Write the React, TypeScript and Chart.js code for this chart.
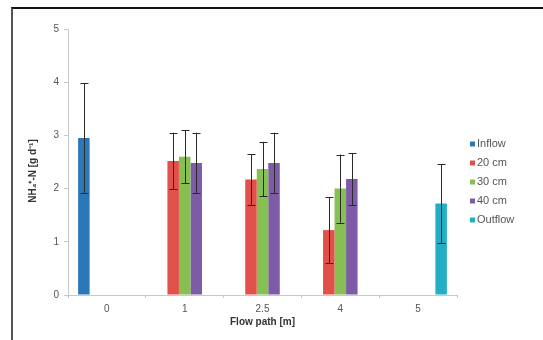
import React, { useEffect, useRef } from "react";
import { Chart, registerables } from "chart.js";

Chart.register(...registerables);

const categories = ["0", "1", "2.5", "4", "5"];
const seriesNames = ["Inflow", "20 cm", "30 cm", "40 cm", "Outflow"];
const inflow = [2.95, null, null, null, null];
const inflowErr = [1.03, null, null, null, null];
const cm20 = [null, 2.52, 2.17, 1.22, null];
const cm20Err = [null, 0.53, 0.48, 0.62, null];
const cm30 = [null, 2.6, 2.37, 2.0, null];
const cm30Err = [null, 0.5, 0.51, 0.64, null];
const cm40 = [null, 2.48, 2.48, 2.18, null];
const cm40Err = [null, 0.57, 0.57, 0.49, null];
const outflow = [null, null, null, null, 1.72];
const outflowErr = [null, null, null, null, 0.74];
const colors = ["#2a78b8", "#e2504c", "#86c052", "#7d5ba6", "#22afc6"];
const yTicks = [0, 1, 2, 3, 4, 5];
const yTitle = "NH₄⁺-N [g d⁻¹]";

const FONT = "'Liberation Sans', Arial, sans-serif";

const errorBarPlugin = {
  id: "errorBars",
  afterDatasetsDraw(chart: any) {
    const ctx = chart.ctx;
    const yScale = chart.scales.y;
    ctx.save();
    ctx.strokeStyle = "#2a2a2a";
    ctx.lineWidth = 1;
    chart.data.datasets.forEach((ds: any, i: number) => {
      const meta = chart.getDatasetMeta(i);
      meta.data.forEach((el: any, j: number) => {
        const v = ds.data[j];
        const e = ds.errors[j];
        if (v == null || e == null) return;
        const x = Math.round(el.x) + 0.5;
        const yTop = yScale.getPixelForValue(v + e);
        const yBot = yScale.getPixelForValue(v - e);
        ctx.beginPath();
        ctx.moveTo(x, yTop);
        ctx.lineTo(x, yBot);
        ctx.moveTo(x - 4, Math.round(yTop) + 0.5);
        ctx.lineTo(x + 4, Math.round(yTop) + 0.5);
        ctx.moveTo(x - 4, Math.round(yBot) + 0.5);
        ctx.lineTo(x + 4, Math.round(yBot) + 0.5);
        ctx.stroke();
      });
    });
    ctx.restore();
  },
};

const legendPlugin = {
  id: "customLegend",
  afterDraw(chart: any) {
    const ctx = chart.ctx;
    ctx.save();
    ctx.font = `11px ${FONT}`;
    ctx.textBaseline = "middle";
    ctx.textAlign = "left";
    chart.data.datasets.forEach((ds: any, i: number) => {
      const y = 144 + i * 19;
      ctx.fillStyle = ds.backgroundColor;
      ctx.fillRect(470, y - 2.5, 5, 5);
      ctx.fillStyle = "#555";
      ctx.fillText(ds.label, 477, y);
    });
    // y-axis title
    ctx.translate(33, 171);
    ctx.rotate(-Math.PI / 2);
    ctx.textAlign = "center";
    ctx.font = `bold 10px ${FONT}`;
    ctx.fillStyle = "#333";
    ctx.fillText(yTitle, 0, 0);
    ctx.restore();
  },
};

export default function App() {
  const ref = useRef<HTMLCanvasElement | null>(null);

  useEffect(() => {
    if (!ref.current) return;
    const values = [inflow, cm20, cm30, cm40, outflow];
    const errs = [inflowErr, cm20Err, cm30Err, cm40Err, outflowErr];
    const chart = new Chart(ref.current, {
      type: "bar",
      data: {
        labels: categories,
        datasets: seriesNames.map((name, i) => ({
          label: name,
          data: values[i],
          errors: errs[i],
          backgroundColor: colors[i],
          borderWidth: 0,
          categoryPercentage: 0.74,
          barPercentage: 1,
        })) as any,
      },
      options: {
        responsive: false,
        animation: false,
        layout: { padding: { top: 29, right: 86, bottom: 0, left: 0 } },
        plugins: {
          legend: { display: false },
          tooltip: { enabled: false },
        },
        scales: {
          x: {
            grid: {
              display: true,
              drawOnChartArea: false,
              drawTicks: true,
              tickLength: 3,
              color: "#c8c8c8",
              offset: true,
            },
            border: { display: true, color: "#c8c8c8", width: 1 },
            ticks: {
              color: "#555",
              font: { family: FONT, size: 10 },
              padding: 5,
            },
            title: {
              display: true,
              text: "Flow path [m]",
              color: "#333",
              font: { family: FONT, size: 10, weight: "bold" },
              padding: { top: 3, bottom: 12 },
            },
            afterFit(scale: any) {
              scale.height = 45;
            },
          },
          y: {
            min: 0,
            max: 5,
            afterBuildTicks(scale: any) {
              scale.ticks = yTicks.map((v) => ({ value: v }));
            },
            grid: {
              display: true,
              drawOnChartArea: false,
              drawTicks: true,
              tickLength: 4,
              color: "#c8c8c8",
            },
            border: { display: true, color: "#c8c8c8", width: 1 },
            ticks: {
              color: "#555",
              font: { family: FONT, size: 10 },
              padding: 5,
            },
            title: { display: false },
            afterFit(scale: any) {
              scale.width = 68;
            },
          },
        },
      },
      plugins: [errorBarPlugin, legendPlugin],
    } as any);
    return () => chart.destroy();
  }, []);

  return (
    <div style={{ position: "absolute", left: 0, top: 0, width: 543, height: 340, background: "#fff", overflow: "hidden" }}>
      <canvas ref={ref} width={543} height={340} style={{ position: "absolute", left: 0, top: 0, width: 543, height: 340 }} />
      <div
        style={{
          position: "absolute",
          left: 11,
          top: 7,
          width: 540,
          height: 340,
          borderTop: "2px solid #111",
          borderLeft: "2px solid #555",
          pointerEvents: "none",
        }}
      />
    </div>
  );
}
